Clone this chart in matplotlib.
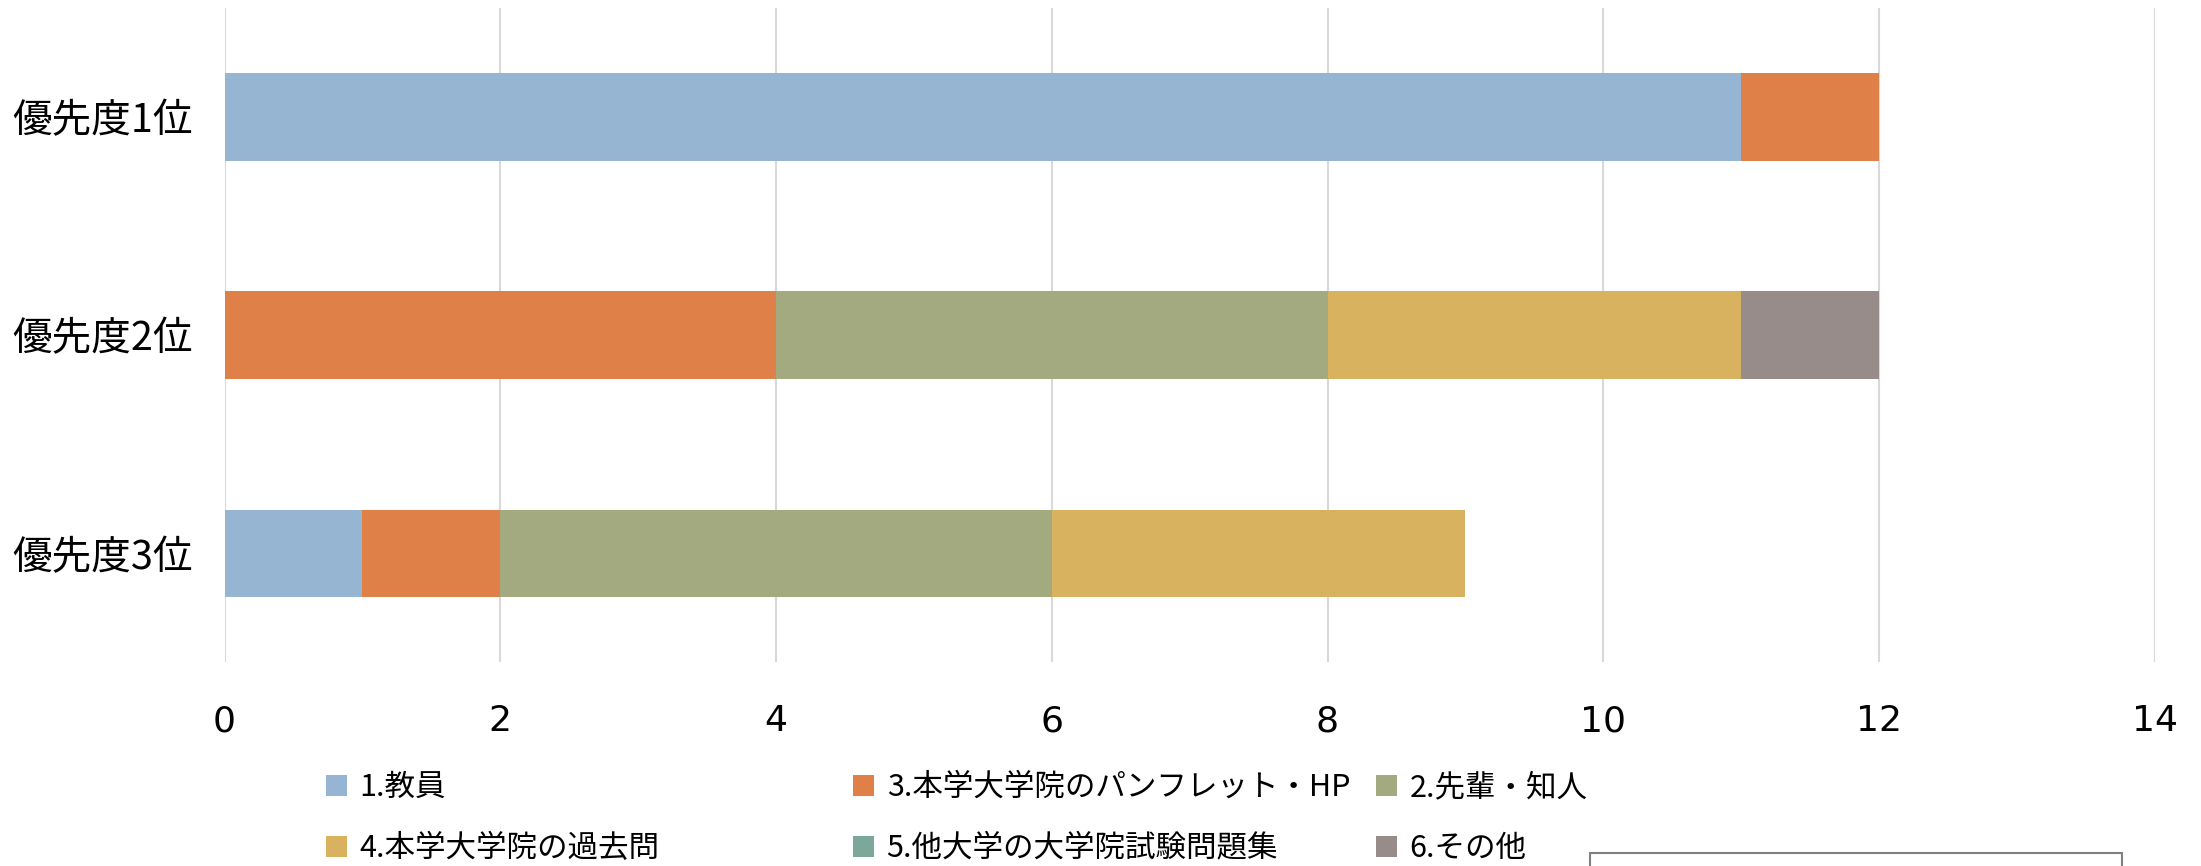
import numpy as np
import matplotlib.pyplot as plt
from matplotlib.patches import Rectangle

jp = ['Noto Sans CJK JP', 'DejaVu Sans']

categories = ['優先度1位', '優先度2位', '優先度3位']
series_names = ['1.教員', '3.本学大学院のパンフレット・HP', '2.先輩・知人',
                '4.本学大学院の過去問', '5.他大学の大学院試験問題集', '6.その他']
colors = ['#95B5D2', '#DE8048', '#A3AA80', '#D8B25E', '#7BA89B', '#978C8A']

s1 = [11, 0, 1]   # 1.教員
s3 = [1, 4, 1]    # 3.本学大学院のパンフレット・HP
s2 = [0, 4, 4]    # 2.先輩・知人
s4 = [0, 3, 3]    # 4.本学大学院の過去問
s5 = [0, 0, 0]    # 5.他大学の大学院試験問題集
s6 = [0, 1, 0]    # 6.その他
series = [s1, s3, s2, s4, s5, s6]

xticks = [0, 2, 4, 6, 8, 10, 12, 14]

fig = plt.figure(figsize=(22.01, 8.66), dpi=100)
ax = fig.add_axes([0.102, 0.235, 0.877, 0.756])

y = np.arange(len(categories))
left = np.zeros(len(categories))
handles = []
for name, vals, c in zip(series_names, series, colors):
    vals = np.array(vals, dtype=float)
    b = ax.barh(y, vals, left=left, height=0.4, color=c, label=name, zorder=3)
    handles.append(b)
    left += vals

ax.set_xlim(0, 14)
ax.set_ylim(2.5, -0.5)
ax.set_xticks(xticks)
ax.set_xticklabels([str(t) for t in xticks], fontsize=26, family='DejaVu Sans')
ax.set_yticks(y)
ax.set_yticklabels(categories, fontsize=28.5, family=jp)
ax.tick_params(axis='both', length=0)
ax.tick_params(axis='x', pad=30)
ax.tick_params(axis='y', pad=23)
ax.grid(axis='x', color='#D9D9D9', linewidth=1.5, zorder=0)
for sp in ax.spines.values():
    sp.set_visible(False)

# legend: three columns of equal width, filled row by row
col_x = [326 / 2201, 853 / 2201, 1376 / 2201]
for k in range(3):
    hs = [handles[k], handles[k + 3]]
    labs = [series_names[k], series_names[k + 3]]
    leg = fig.legend(hs, labs, loc='upper left', bbox_to_anchor=(col_x[k], 1 - 772 / 866),
                     frameon=False, borderpad=0, borderaxespad=0,
                     handlelength=0.7, handleheight=0.7, handletextpad=0.4,
                     labelspacing=0.98, prop={'family': jp, 'size': 22})

# clipped box at the bottom right
fig.patches.append(Rectangle((1590 / 2201, -0.05), 532 / 2201, 0.05 + 13 / 866,
                             transform=fig.transFigure, fill=False,
                             edgecolor='#808080', linewidth=1.5))

fig.savefig('out.png', dpi=100)
